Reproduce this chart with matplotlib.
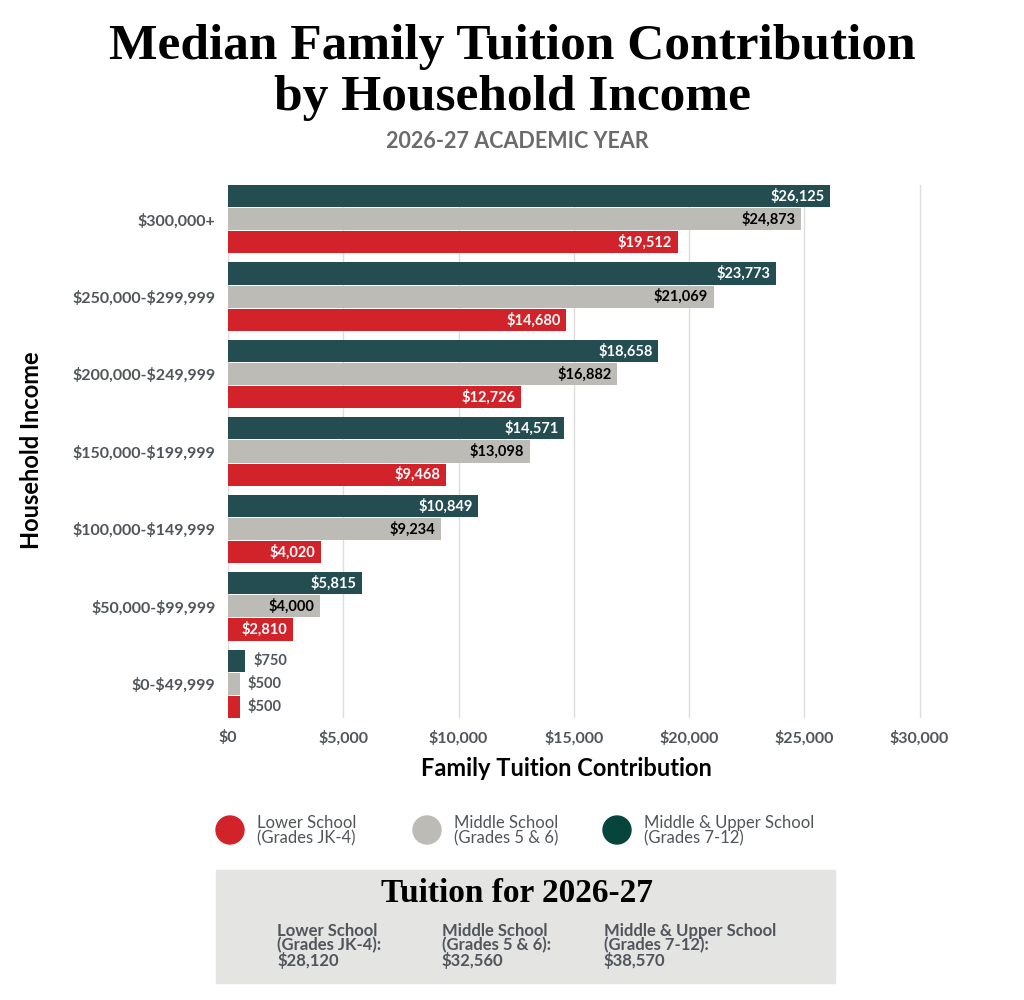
import matplotlib.pyplot as plt
from matplotlib.patches import Rectangle, Ellipse
import numpy as np

# data
incomes = ["$0-$49,999", "$50,000-$99,999", "$100,000-$149,999", "$150,000-$199,999",
           "$200,000-$249,999", "$250,000-$299,999", "$300,000+"]
lower = [500, 2810, 4020, 9468, 12726, 14680, 19512]
middle = [500, 4000, 9234, 13098, 16882, 21069, 24873]
upper = [750, 5815, 10849, 14571, 18658, 23773, 26125]
xticks = [0, 5000, 10000, 15000, 20000, 25000, 30000]

red = "#D2232A"
grey = "#BCBBB6"
teal = "#244D51"
green = "#07453C"
txt = "#50555B"

plt.rcParams['font.family'] = ['Lato', 'DejaVu Sans']
plt.rcParams['text.parse_math'] = False
serif = ["Liberation Serif", "DejaVu Serif"]

W, H = 1024, 1000
fig = plt.figure(figsize=(W / 100, H / 100), dpi=100)


def px(x, y):
    return x / W, 1 - y / H


ax = fig.add_axes([228 / W, 1 - 718 / H, 695 / W, 533 / H])

y = np.arange(len(incomes))
step = 0.2987
bh = 0.2857
series = [(lower, red, -step, "white"), (middle, grey, 0, "black"), (upper, teal, step, "white")]
for vals, col, off, lc in series:
    bars = ax.barh(y + off, vals, height=bh, color=col, zorder=3)
    for b, v in zip(bars, vals):
        lab = "${:,}".format(v)
        cy = b.get_y() + b.get_height() / 2
        if v < 2000:
            ax.annotate(lab, (v, cy), xytext=(6, 0), textcoords="offset points",
                        ha="left", va="center", fontsize=10.5, fontweight="bold", color=txt, zorder=4)
        else:
            ax.annotate(lab, (v, cy), xytext=(-4, 0), textcoords="offset points",
                        ha="right", va="center", fontsize=10.5, fontweight="bold", color=lc, zorder=4)

ax.set_xlim(0, 30150)
ax.set_ylim(-0.442, 6.442)
ax.set_xticks(xticks)
ax.set_xticklabels(["${:,}".format(t) for t in xticks])
ax.set_yticks(y)
ax.set_yticklabels(incomes)
ax.tick_params(length=0, labelsize=11.5, labelcolor=txt, pad=9)
for lb in ax.get_xticklabels() + ax.get_yticklabels():
    lb.set_fontweight("bold")
ax.grid(axis="x", color="#DDDDDD", linewidth=1, zorder=0)
for s in ax.spines.values():
    s.set_visible(False)

# titles
fig.text(*px(512, 47), "Median Family Tuition Contribution", ha="center", va="center",
         fontsize=37, fontweight="bold", family=serif)
fig.text(*px(512, 98), "by Household Income", ha="center", va="center",
         fontsize=37, fontweight="bold", family=serif)
fig.text(*px(517, 141), "2026-27 ACADEMIC YEAR", ha="center", va="center",
         fontsize=15.5, fontweight="bold", color="#6B6B6B")

fig.text(*px(32, 450), "Household Income", rotation=90, ha="center", va="center",
         fontsize=17, fontweight="bold", color="black")
fig.text(*px(566, 769), "Family Tuition Contribution", ha="center", va="center",
         fontsize=17, fontweight="bold", color="black")

# legend
leg = [(230, red, "Lower School\n(Grades JK-4)"),
       (427, grey, "Middle School\n(Grades 5 & 6)"),
       (617, green, "Middle & Upper School\n(Grades 7-12)")]
for lx, col, lab in leg:
    fig.patches.append(Ellipse(px(lx, 830), 28 / W, 28 / H, transform=fig.transFigure,
                               color=col))
    fig.text(*px(lx + 27, 831), lab, ha="left", va="center", fontsize=12,
             color=txt, linespacing=0.95)

# tuition box
fig.patches.append(Rectangle(px(216, 983), (835 - 216) / W, (983 - 870) / H,
                             transform=fig.transFigure, color="#E4E4E3", zorder=0))
fig.text(*px(517, 893), "Tuition for 2026-27", ha="center", va="center",
         fontsize=24, fontweight="bold", family=serif)
cols = [(277, "Lower School\n(Grades JK-4):\n$28,120"),
        (442, "Middle School\n(Grades 5 & 6):\n$32,560"),
        (604, "Middle & Upper School\n(Grades 7-12):\n$38,570")]
for cx, lab in cols:
    fig.text(*px(cx, 946), lab, ha="left", va="center", fontsize=12,
             fontweight="bold", color=txt, linespacing=0.9)

fig.savefig("out.png", dpi=100)
